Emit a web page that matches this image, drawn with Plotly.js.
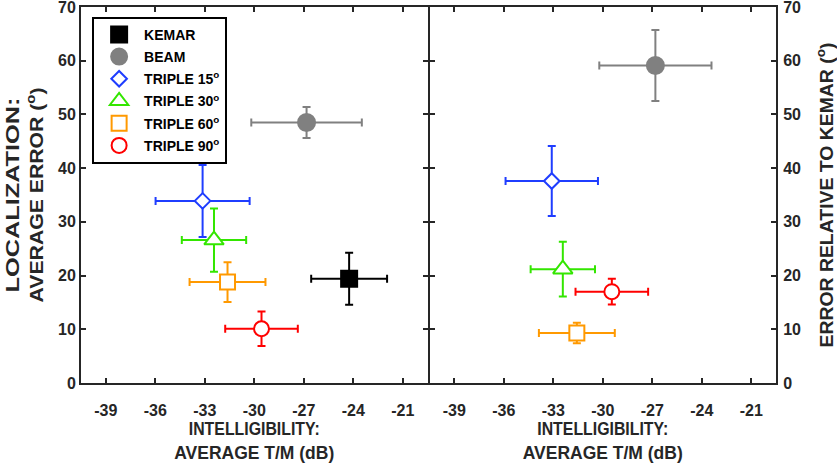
<!DOCTYPE html>
<html>
<head>
<meta charset="utf-8">
<script src="https://cdn.plot.ly/plotly-3.0.1.min.js"></script>
<style>html,body{margin:0;padding:0;background:#fff;}#chart{width:837px;height:464px;}</style>
</head>
<body>
<div id="chart"></div>
<script>
// Series names, legend labels and styles
const names = ["KEMAR", "BEAM", "TRIPLE 15<sup>o</sup>", "TRIPLE 30<sup>o</sup>", "TRIPLE 60<sup>o</sup>", "TRIPLE 90<sup>o</sup>"];
const colors = ["#000000", "#808080", "#1f3dff", "#33e600", "#ff9900", "#ff0000"];
const symbols = ["square", "circle", "diamond", "triangle-up", "square", "circle"];
const fillColors = ["#000000", "#808080", "#ffffff", "#ffffff", "#ffffff", "#ffffff"];
const markerSizes = [16, 17, 12, 17, 15, 15];

// Left panel: intelligibility (x, dB) vs localization average error (y, deg)
const xLeft    = [-24.25, -26.83, -33.13, -32.44, -31.62, -29.56];
const xErrLeft = [2.3, 3.35, 2.85, 1.95, 2.3, 2.2];
const yLeft    = [19.4, 48.5, 33.9, 26.6, 18.8, 10.1];
const yErrLeft = [4.85, 2.9, 6.7, 5.9, 3.7, 3.2];

// Right panel: intelligibility (x, dB) vs error relative to KEMAR (y, deg); no KEMAR point
const xRight    = [null, -26.81, -33.09, -32.42, -31.57, -29.45];
const xErrRight = [null, 3.4, 2.8, 1.95, 2.3, 2.2];
const yRight    = [null, 59.1, 37.6, 21.2, 9.3, 17.0];
const yErrRight = [null, 6.6, 6.5, 5.1, 1.9, 2.4];

const xTicks = [-39, -36, -33, -30, -27, -24, -21];
const yTicks = [0, 10, 20, 30, 40, 50, 60, 70];

function makeTrace(i, x, y, ex, ey, xa, ya, legend) {
  return {
    type: "scatter", mode: "markers", name: names[i],
    x: [x], y: [y], xaxis: xa, yaxis: ya,
    legendgroup: "g" + i,
    error_x: {type: "data", array: [ex], color: colors[i], thickness: 2, width: 4},
    error_y: {type: "data", array: [ey], color: colors[i], thickness: 2, width: 4},
    marker: {symbol: symbols[i], size: markerSizes[i], color: fillColors[i], line: {color: colors[i], width: 2}},
    showlegend: legend, cliponaxis: false
  };
}

const traces = [];
for (let i = 0; i < names.length; i++) {
  traces.push(makeTrace(i, xLeft[i], yLeft[i], xErrLeft[i], yErrLeft[i], "x", "y", true));
}
for (let i = 0; i < names.length; i++) {
  if (xRight[i] === null) continue;
  traces.push(makeTrace(i, xRight[i], yRight[i], xErrRight[i], yErrRight[i], "x2", "y2", false));
}

const axisColor = "#262626";
const fam = "Liberation Sans, Arial, sans-serif";
const tickFont = {family: fam, size: 16, color: "#262626", weight: 700};
const titleFont = {family: fam, size: 18, color: "#262626", weight: 700};
const gap = 1 / 695;

function xAxis(domain, anchor) {
  return {
    domain: domain, anchor: anchor, range: [-40.5, -19.5],
    tickmode: "array", tickvals: xTicks, ticktext: xTicks.map(String),
    ticks: "inside", ticklen: 5, tickwidth: 2, tickcolor: axisColor,
    showline: true, linewidth: 2, linecolor: axisColor, mirror: "ticks",
    showgrid: false, zeroline: false, tickfont: tickFont,
    ticklabelstandoff: 12, ticklabeloverflow: "allow",
    title: {text: "INTELLIGIBILITY:<br>AVERAGE T/M (dB)", font: titleFont, standoff: 2}
  };
}
function yAxis(anchor, side, title, standoff, lso) {
  return {
    domain: [0, 1], anchor: anchor, side: side, range: [0, 70],
    tickmode: "array", tickvals: yTicks, ticktext: yTicks.map(String),
    ticks: "inside", ticklen: 5, tickwidth: 2, tickcolor: axisColor,
    showline: true, linewidth: 2, linecolor: axisColor, mirror: "ticks",
    showgrid: false, zeroline: false, tickfont: tickFont,
    ticklabeloverflow: "allow", ticklabelstandoff: lso,
    title: {text: title, font: titleFont, standoff: standoff}
  };
}

const layout = {
  width: 837, height: 464,
  margin: {l: 81, r: 61, t: 7, b: 81, pad: 0},
  paper_bgcolor: "#ffffff", plot_bgcolor: "#ffffff",
  showlegend: true,
  legend: {
    x: 0.016, y: 0.974, xanchor: "left", yanchor: "top",
    bgcolor: "#ffffff", bordercolor: "#000000", borderwidth: 2,
    itemwidth: 40, tracegroupgap: 1, traceorder: "grouped",
    font: {family: fam, size: 14, color: "#000000", weight: 700}
  },
  xaxis: xAxis([0, 0.5 - gap], "y"),
  xaxis2: xAxis([0.5 + gap, 1], "y2"),
  yaxis: yAxis("x", "left", "LOCALIZATION:<br>AVERAGE ERROR (<sup>o</sup>)", 10, 0),
  yaxis2: yAxis("x2", "right", "ERROR RELATIVE TO KEMAR (<sup>o</sup>)", 20, 2)
};

// Stretch/compress axis-title lines to the lengths seen in the reference
function fitTitle(sel, lengths) {
  const t = document.querySelector(sel);
  if (!t) return;
  const lines = t.querySelectorAll("tspan.line");
  const targets = lines.length ? Array.from(lines) : [t];
  targets.forEach((el, k) => {
    if (lengths[k]) {
      el.setAttribute("textLength", lengths[k]);
      el.setAttribute("lengthAdjust", "spacingAndGlyphs");
    }
  });
}

Plotly.newPlot("chart", traces, layout, {displayModeBar: false, staticPlot: true}).then(() => {
  fitTitle(".ytitle", [195, 215]);
  fitTitle(".y2title", [305]);
  fitTitle(".xtitle", [131, 160]);
  fitTitle(".x2title", [131, 160]);
});
</script>
</body>
</html>
